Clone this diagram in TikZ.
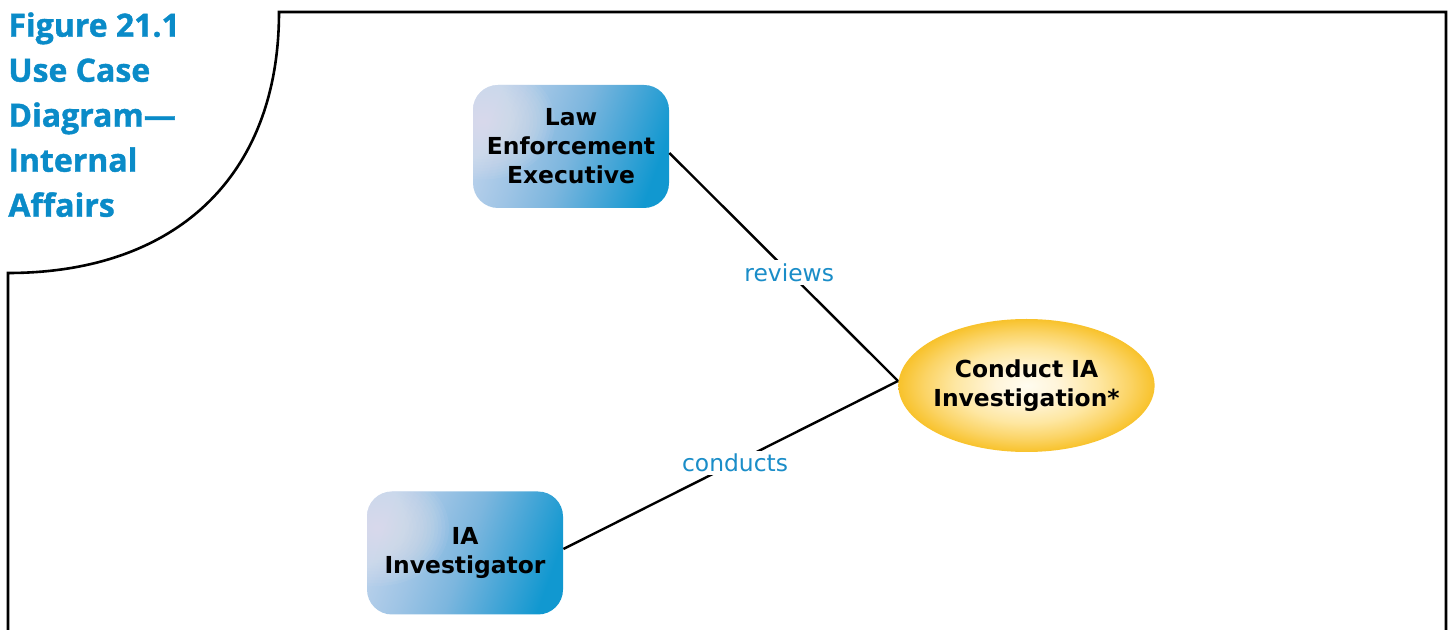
\documentclass[tikz,border=0pt]{standalone}
\usepackage{fontspec}
\setmainfont{DejaVu Sans}
\newfontfamily\titlefont[BoldFeatures={FakeBold=1.2}]{Open Sans}
\usetikzlibrary{shapes.geometric}
\definecolor{figblue}{HTML}{0A8BC8}
\definecolor{lablue}{HTML}{1A8DC8}
\definecolor{actA}{HTML}{E5E5F2}
\definecolor{actL}{HTML}{BAD1EB}
\definecolor{actB}{HTML}{9EC4E5}
\definecolor{actC}{HTML}{7CB6DE}
\definecolor{actD}{HTML}{47A6D7}
\definecolor{actE}{HTML}{1198D0}
\definecolor{ucA}{HTML}{FFFCF0}
\definecolor{ucB}{HTML}{FFF5DA}
\definecolor{ucC}{HTML}{FEE7A2}
\definecolor{ucD}{HTML}{FBD466}
\definecolor{ucE}{HTML}{F8C22B}
\pgfdeclarehorizontalshading{actorshade}{100bp}{color(0bp)=(actL); color(25bp)=(actL); color(37.5bp)=(actB); color(50bp)=(actC); color(62.5bp)=(actD); color(75bp)=(actE); color(100bp)=(actE)}
\pgfdeclareradialshading{ucshade}{\pgfpoint{0bp}{0bp}}{color(0bp)=(ucA); color(6bp)=(ucB); color(14bp)=(ucC); color(20bp)=(ucD); color(25bp)=(ucE); color(50bp)=(ucE)}
\tikzset{
  actor/.style={rectangle, rounded corners=12.5pt, minimum width=98pt, minimum height=61.5pt,
    inner sep=0pt, shade, shading=actorshade, shading angle=-20, align=center,
    path picture={\foreach \k in {1,...,20}{\fill[actA, fill opacity=0.075]
      ([xshift=5pt, yshift=12.5pt]path picture bounding box.west) ellipse [x radius={1.8pt*\k}, y radius={1.45pt*\k}];}},
    font=\fontsize{11.7}{14.5}\selectfont\bfseries},
  usecase/.style={ellipse, minimum width=128pt, minimum height=66.5pt, inner xsep=-1.3pt, inner ysep=0pt,
    shade, shading=ucshade, align=center, font=\fontsize{11.7}{14.2}\selectfont\bfseries},
  conn/.style={draw=black, line width=1.2pt},
  lbl/.style={fill=white, text=lablue, inner sep=1.5pt, font=\fontsize{11.7}{14}\selectfont},
  frameline/.style={draw=black, line width=1.3pt},
  figtitle/.style={anchor=north west, inner sep=0pt, align=left, text=figblue,
    font=\titlefont\bfseries\fontsize{16}{22.5}\selectfont}
}
\begin{document}
\begin{tikzpicture}[x=0.5pt, y=-0.5pt]
\useasboundingbox (0,0) rectangle (1452,630);
% frame with curved corner
\draw[frameline] (8,640) -- (8,273) .. controls (174,273) and (279,178) .. (279,12) -- (1446,12) -- (1446,640);
% title
\node[figtitle] (title) at (8,12) {Figure 21.1\\Use Case\\Diagram—\\Internal\\Affairs};
% nodes
\node[actor] (lee) at (571,146.5) {Law\\Enforcement\\Executive};
\node[actor] (iai) at (465,553) {IA\\Investigator};
\node[usecase] (uc) at (1026.5,385.5) {Conduct IA\\Investigation*};
% connectors
\draw[conn] ([yshift=-3.25pt]lee.east) -- node[lbl, pos=0.524] (lrev) {reviews} ([yshift=2.25pt]uc.west);
\draw[conn] ([yshift=2pt]iai.east) -- node[lbl, pos=0.513] (lcon) {conducts} ([yshift=2.25pt]uc.west);
\end{tikzpicture}
\end{document}
